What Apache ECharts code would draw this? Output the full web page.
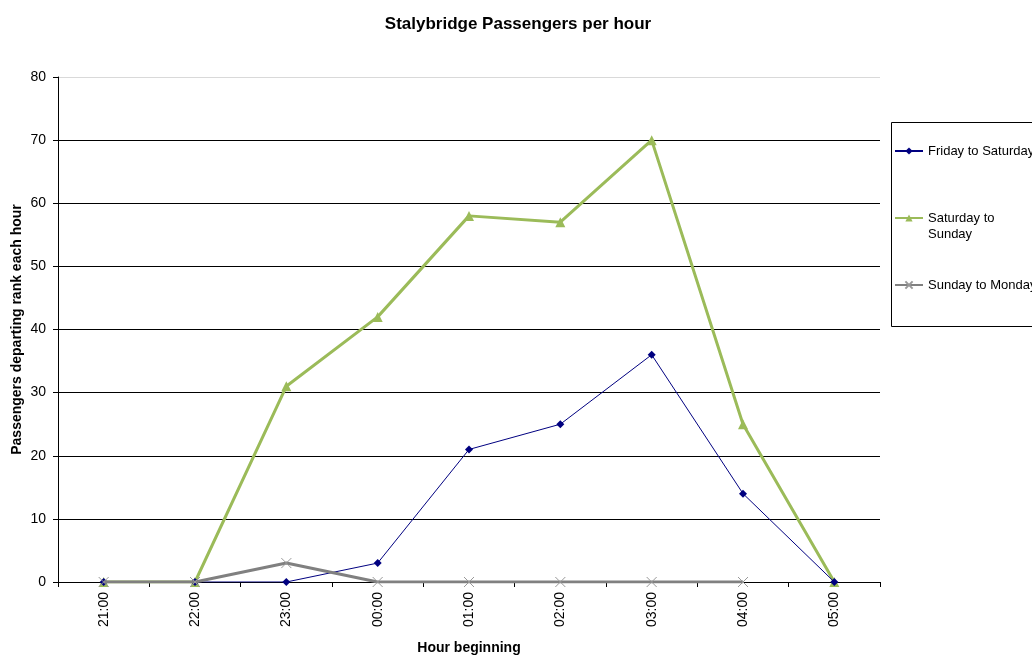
<!DOCTYPE html>
<html>
<head>
<meta charset="utf-8">
<script src="https://cdn.jsdelivr.net/npm/echarts@6/dist/echarts.min.js"></script>
<style>
  html, body { margin: 0; padding: 0; background: #fff; }
  #chart { width: 1032px; height: 655px; }
</style>
</head>
<body>
<div id="chart"></div>
<script>
// Hourly passenger counts departing the Stalybridge taxi rank
const hours = ['21:00', '22:00', '23:00', '00:00', '01:00', '02:00', '03:00', '04:00', '05:00'];
const fridayToSaturday = [0, 0, 0, 3, 21, 25, 36, 14, 0];
const saturdayToSunday = [0, 0, 31, 42, 58, 57, 70, 25, 0];
const sundayToMonday = [0, 0, 3, 0, 0, 0, 0, 0, null];
const yTicks = [0, 10, 20, 30, 40, 50, 60, 70, 80];

const FONT = 'Liberation Sans, Arial, sans-serif';
const crossSymbol = 'path://M0,0L10,10M10,0L0,10';

const chart = echarts.init(document.getElementById('chart'));

// Gridlines are black, the top edge of the plot area is a pale grey
const splitColors = yTicks.map((v, i) => i === yTicks.length - 1 ? '#d9d9d9' : '#000');

// One legend block per series so each entry sits in its own slot of the box.
// A leading blank line keeps the key line level with the first text line.
function legendAt(name, top, leadBlank) {
  return {
    data: [name],
    left: 894,
    top: top,
    orient: 'vertical',
    itemWidth: 28,
    itemHeight: 9,
    itemGap: 0,
    padding: 0,
    formatter: leadBlank ? (n) => '\n' + n : '{name}',
    textStyle: { fontFamily: FONT, fontSize: 13, color: '#000', lineHeight: 16 },
    selectedMode: false
  };
}

chart.setOption({
  animation: false,
  backgroundColor: '#fff',
  title: {
    text: 'Stalybridge Passengers per hour',
    left: 513,
    textAlign: 'center',
    top: 11,
    textStyle: { fontFamily: FONT, fontSize: 17, fontWeight: 'bold', color: '#000' }
  },
  graphic: [{
    type: 'rect',
    shape: { x: 891.5, y: 122.5, width: 160, height: 204 },
    style: { fill: '#fff', stroke: '#000', lineWidth: 1 },
    z: -1
  }],
  legend: [
    legendAt('Friday to Saturday', 143),
    legendAt('Saturday to\nSunday', 194, true),
    legendAt('Sunday to Monday', 277)
  ],
  grid: { left: 58, right: 152, top: 77, bottom: 73, containLabel: false, outerBoundsMode: 'none' },
  xAxis: {
    type: 'category',
    data: hours,
    boundaryGap: true,
    name: 'Hour beginning',
    nameLocation: 'middle',
    nameGap: 59,
    nameTextStyle: { fontFamily: FONT, fontSize: 14, fontWeight: 'bold', color: '#000' },
    axisLine: { lineStyle: { color: '#000', width: 1 } },
    axisTick: { show: true, alignWithLabel: false, length: 5, lineStyle: { color: '#000' } },
    axisLabel: { rotate: 90, fontFamily: FONT, fontSize: 14, color: '#000', margin: 10, interval: 0 },
    splitLine: { show: false }
  },
  yAxis: {
    type: 'value',
    min: 0,
    max: 80,
    interval: 10,
    name: 'Passengers departing rank each hour',
    nameLocation: 'middle',
    nameGap: 34,
    nameMoveOverlap: false,
    nameRotate: 90,
    nameTextStyle: { fontFamily: FONT, fontSize: 14, fontWeight: 'bold', color: '#000' },
    axisLine: { show: true, lineStyle: { color: '#000', width: 1 } },
    axisTick: { show: true, length: 5, lineStyle: { color: '#000' } },
    axisLabel: { fontFamily: FONT, fontSize: 14, color: '#000', margin: 12 },
    splitLine: { show: true, lineStyle: { color: splitColors, width: 1 } }
  },
  series: [
    {
      name: 'Friday to Saturday',
      type: 'line',
      data: fridayToSaturday,
      color: '#000080',
      lineStyle: { color: '#000080', width: 1 },
      symbol: 'diamond',
      symbolSize: 8,
      itemStyle: { color: '#000080' },
      z: 4
    },
    {
      name: 'Saturday to\nSunday',
      type: 'line',
      data: saturdayToSunday,
      color: '#9bbb59',
      lineStyle: { color: '#9bbb59', width: 3 },
      symbol: 'triangle',
      symbolSize: 10,
      itemStyle: { color: '#9bbb59' },
      z: 3
    },
    {
      name: 'Sunday to Monday',
      type: 'line',
      data: sundayToMonday,
      color: '#808080',
      lineStyle: { color: '#808080', width: 3 },
      symbol: crossSymbol,
      symbolSize: 10,
      itemStyle: { color: 'rgba(0,0,0,0)', borderColor: '#999', borderWidth: 1 },
      z: 5
    }
  ]
});
</script>
</body>
</html>
